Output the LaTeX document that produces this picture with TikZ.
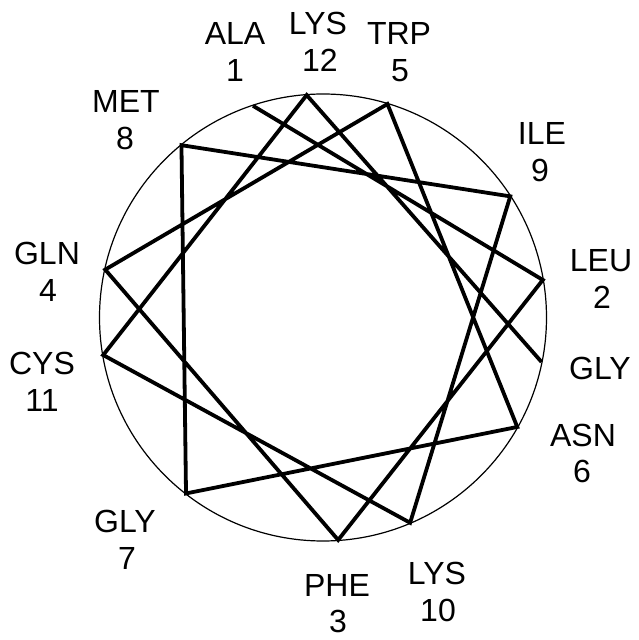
\documentclass[tikz,border=0pt]{standalone}
\usepackage{fontspec}
\setmainfont{Liberation Sans}
\begin{document}
\begin{tikzpicture}[x=1pt,y=1pt,
  wheel/.style={line width=1.2pt},
  chain/.style={line width=3.8pt,line join=miter},
  res/.style={anchor=base,inner sep=0pt,font=\fontsize{32}{37}\selectfont}]
\fill[white] (0,0) rectangle (638,640);
\useasboundingbox (0,0) rectangle (638,640);
\coordinate (c) at (323,322.5);
\draw[wheel] (c) circle (223.5);
\foreach \i/\a in {1/108.3,2/9.7,3/-86.1,4/167.6,5/73.2,6/-29.4,7/232.1,8/129.4,9/32.9,10/-67.0,11/189.7,12/94.2,13/-11.5}
  \path (c) ++(\a:223) coordinate (v\i);
\draw[chain] (v1) -- (v2) -- (v3) -- (v4) -- (v5) -- (v6) -- (v7) -- (v8) -- (v9) -- (v10) -- (v11) -- (v12) -- (v13);
% labels: name at baseline, number 36 below
\foreach \n/\t/\x/\y in {a/ALA/235/595, b/LYS/318/605, c/TRP/399/595, d/ILE/542/495, e/LEU/601/368, f/ASN/583/193, g/LYS/437/55, h/PHE/337/43, k/GLY/125/107, l/CYS/42/265, m/GLN/47/375, o/MET/126/527}
  \node[res] (t\n) at (\x,\y) {\t};
\node[res] (tn) at (600,260) {GLY};
\foreach \n/\t/\x/\y in {a/1/235/558, b/12/320/568, c/5/400/558, d/9/540/458, e/2/602/331, f/6/582/157, g/10/438/18, h/3/338/8, k/7/127/70, l/11/42/228, m/4/48/338, o/8/125/490}
  \node[res] (n\n) at (\x,\y) {\t};
\end{tikzpicture}
\end{document}
